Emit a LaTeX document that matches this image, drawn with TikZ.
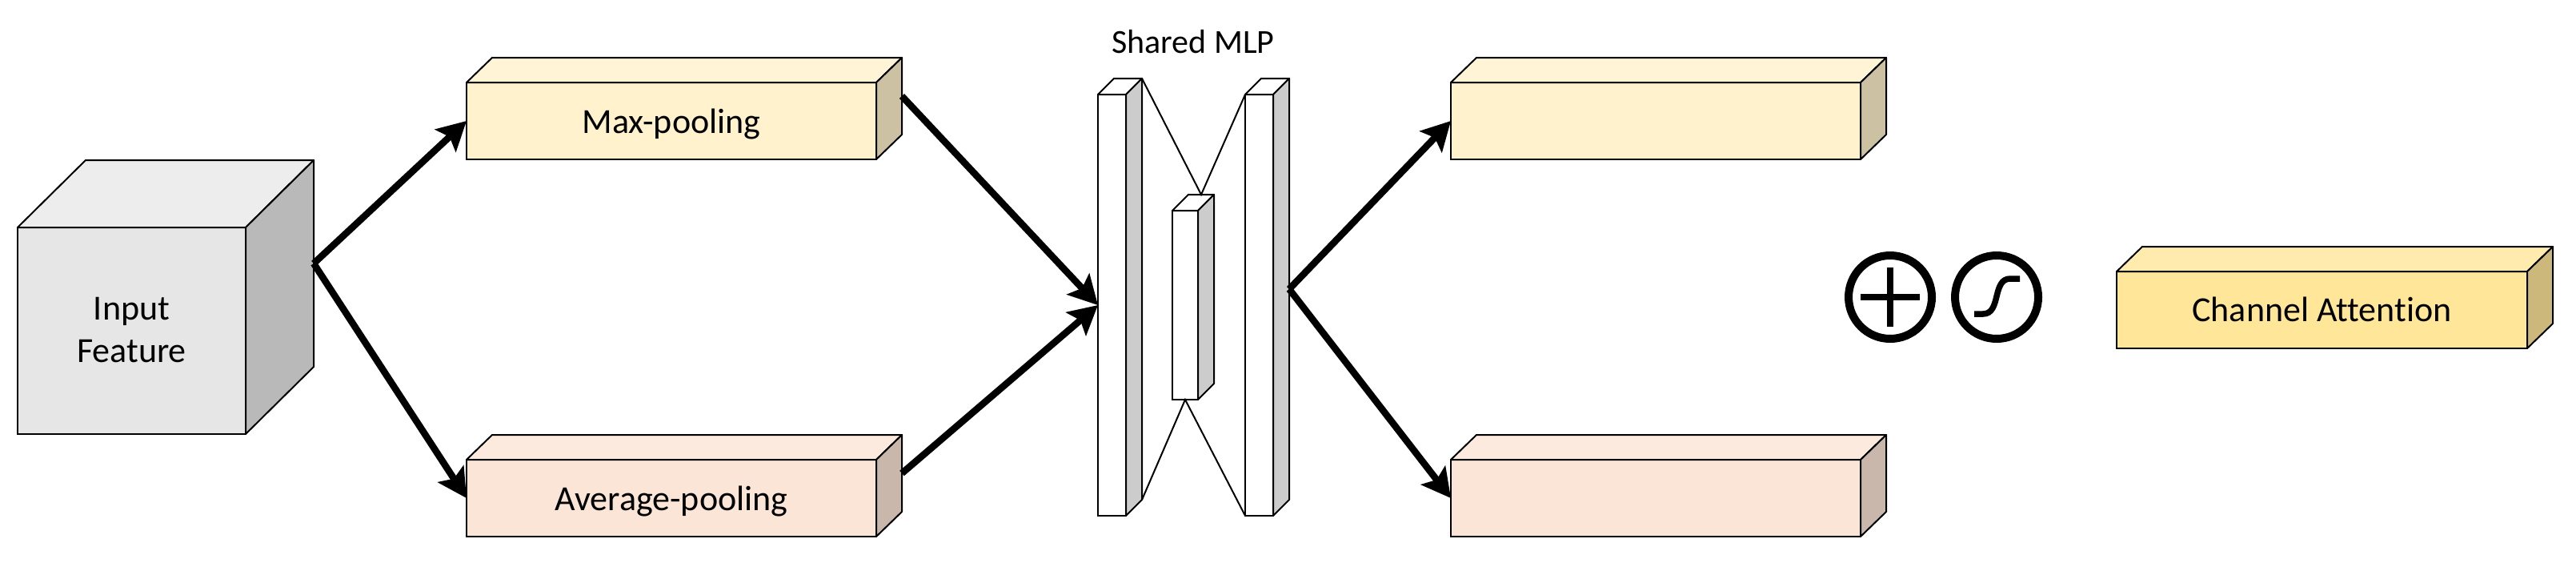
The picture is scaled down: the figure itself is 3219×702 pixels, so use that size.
\documentclass[tikz,border=0pt]{standalone}
\usepackage{fontspec}
\setmainfont{Carlito}[Ligatures=NoCommon]
\usetikzlibrary{arrows.meta,calc}
\definecolor{cubefront}{HTML}{E6E6E6}
\definecolor{cubetop}{HTML}{EDEDED}
\definecolor{cubeside}{HTML}{B9B9B9}
\definecolor{maxfront}{HTML}{FFF2CC}
\definecolor{maxtop}{HTML}{FFF4D6}
\definecolor{maxside}{HTML}{CCC2A3}
\definecolor{avgfront}{HTML}{FBE5D6}
\definecolor{avgtop}{HTML}{FCEADE}
\definecolor{avgside}{HTML}{C9B7AB}
\definecolor{cafront}{HTML}{FFE699}
\definecolor{catop}{HTML}{FFEBAD}
\definecolor{caside}{HTML}{CCB87A}
\definecolor{slabfront}{HTML}{FFFFFF}
\definecolor{slabtop}{HTML}{FFFFFF}
\definecolor{slabside}{HTML}{CCCCCC}
\tikzset{
  facebox/.style={draw=black, line width=2pt, inner sep=0pt, outer sep=0pt, anchor=north west},
  faceedge/.style={draw=black, line width=2pt, line join=round},
  flowarrow/.style={line width=8.5pt, -{Stealth[length=36pt,width=38pt,inset=7pt]}},
  mlpline/.style={line width=2pt},
  lbl/.style={font=\fontsize{44}{53}\selectfont, anchor=base, inner sep=0pt},
  opcircle/.style={circle, draw=black, line width=10pt, minimum size=104pt, inner sep=0pt, outer sep=0pt},
  opmark/.style={line width=7.5pt},
}
% name, x, y (front top-left), w, h, dx, dy, colour prefix
\newcommand{\prismbox}[8]{%
  \node[facebox, fill=#8front, minimum width=#4pt, minimum height=#5pt] (#1) at (#2,#3) {};
  \draw[faceedge, fill=#8top] (#1.north west) -- ++(#6,-#7) -- ++(#4,0) -- (#1.north east) -- cycle;
  \draw[faceedge, fill=#8side] (#1.north east) -- ++(#6,-#7) -- ++(0,#5) -- (#1.south east) -- cycle;
}
\begin{document}
\begin{tikzpicture}[x=1pt,y=-1pt]
\useasboundingbox (0,0) rectangle (3219,702);

% input cube
\prismbox{cube}{22}{284}{285}{258}{85}{84}{cube}
\node[font=\fontsize{44}{53}\selectfont, align=center, inner sep=0pt] (inlbl) at (164.5,412.5) {Input\\Feature};

% pooling boxes
\prismbox{mp}{583}{103}{512}{96}{32}{31}{max}
\node[lbl] (mplbl) at ($(mp.center)+(0,15)$) {Max-pooling};
\prismbox{ap}{583}{574}{512}{96}{32}{31}{avg}
\node[lbl] (aplbl) at ($(ap.center)+(0,15)$) {Average-pooling};

% shared MLP
\node[lbl, font=\fontsize{42}{50}\selectfont] (mlplbl) at (1491,66) {Shared MLP};
\prismbox{s1}{1372}{118}{35}{526}{20}{20}{slab}
\prismbox{s2}{1465}{263}{32}{236}{20}{20}{slab}
\prismbox{s3}{1556}{118}{35}{526}{20}{20}{slab}
\coordinate (s1tb) at ($(s1.north east)+(20,-20)$);
\coordinate (s1bb) at ($(s1.south east)+(20,-20)$);
\coordinate (s2top) at ($(s2.north)+(20,-20)$);
\draw[mlpline] (s1tb) -- (s2top) -- (s3.north west);
\draw[mlpline] (s1bb) -- (s2.south) -- (s3.south west);

% output boxes
\prismbox{r1}{1813}{103}{512}{96}{32}{31}{max}
\prismbox{r2}{1813}{574}{512}{96}{32}{31}{avg}

% operators
\node[opcircle] (plus) at (2362,371) {};
\draw[opmark] ($(plus.center)+(0,-37)$) -- ($(plus.center)+(0,37)$);
\draw[opmark] ($(plus.center)+(-37,0)$) -- ($(plus.center)+(37,0)$);
\node[opcircle] (sig) at (2495,371) {};
\draw[opmark] ($(sig.center)+(-28,21)$) -- ($(sig.center)+(-17,21)$)
  .. controls ($(sig.center)+(6,21)$) and ($(sig.center)+(-6,-23)$) .. ($(sig.center)+(17,-23)$)
  -- ($(sig.center)+(29,-23)$);

% channel attention
\prismbox{ca}{2645}{339}{513}{96}{32}{31}{ca}
\node[lbl] (calbl) at ($(ca.center)+(0,14)$) {Channel Attention};

% connectors
\coordinate (cubeout) at ($(cube.east)+(85,-84)$);
\coordinate (mpout) at ($(mp.east)+(32,-31)$);
\coordinate (apout) at ($(ap.east)+(32,-31)$);
\coordinate (mlpout) at ($(s3.east)+(20,-20)$);
\draw[flowarrow] (cubeout) -- (mp.west);
\draw[flowarrow] (cubeout) -- (ap.west);
\draw[flowarrow] (mpout) -- (s1.west);
\draw[flowarrow] (apout) -- (s1.west);
\draw[flowarrow] (mlpout) -- (r1.west);
\draw[flowarrow] (mlpout) -- (r2.west);
\end{tikzpicture}
\end{document}
